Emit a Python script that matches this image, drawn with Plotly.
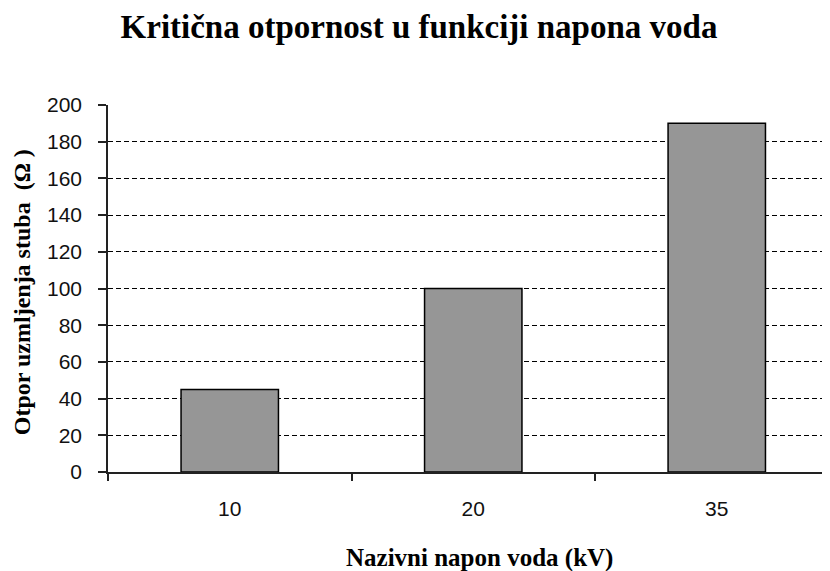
import plotly.graph_objects as go

# podaci
naponi = ["10", "20", "35"]
otpor = [45, 100, 190]
y_ticks = list(range(0, 201, 20))

SERIF = "Liberation Serif, Times New Roman, serif"
SANS = "Liberation Sans, Arial, sans-serif"

fig = go.Figure()
fig.add_trace(go.Bar(
    x=naponi, y=otpor,
    width=0.4,
    marker=dict(color="#969696", line=dict(color="black", width=1.5)),
))

# naslovi osa kao anotacije (tačno pozicioniranje)
fig.add_annotation(
    text="<b>Nazivni napon voda (kV)</b>",
    xref="paper", yref="paper", x=0.515, y=-0.234,
    xanchor="center", yanchor="middle", showarrow=False,
    font=dict(family=SERIF, size=25, color="black"),
)
fig.add_annotation(
    text="<b>Otpor uzmljenja stuba  (Ω )</b>",
    xref="paper", yref="paper", x=-0.119, y=0.49,
    xanchor="center", yanchor="middle", showarrow=False, textangle=-90,
    font=dict(family=SERIF, size=24, color="black"),
)

fig.update_layout(
    title=dict(
        text="<b>Kritična otpornost u funkciji napona voda</b>",
        x=0.5, xref="container", xanchor="center",
        y=0.968, yref="container", yanchor="middle",
        font=dict(family=SERIF, size=33, color="black"),
    ),
    xaxis=dict(
        type="category",
        range=[-0.5, 2.465],
        tickson="boundaries",
        ticks="outside", ticklen=7, tickcolor="#222", tickwidth=1.5,
        showline=True, linecolor="#222", linewidth=1.5,
        showgrid=False,
        ticklabelstandoff=17,
        tickfont=dict(family=SANS, size=21, color="#111"),
    ),
    yaxis=dict(
        range=[0, 200], tickvals=y_ticks,
        ticks="outside", ticklen=8, tickcolor="#222", tickwidth=1.5,
        showline=True, linecolor="#222", linewidth=1.5,
        showgrid=True, gridcolor="black", griddash="5px,3px", gridwidth=1,
        zeroline=False,
        ticklabelstandoff=12,
        tickfont=dict(family=SANS, size=21, color="#111"),
    ),
    margin=dict(l=100, r=0, t=97, b=99),
    width=822, height=563,
    plot_bgcolor="white", paper_bgcolor="white",
    showlegend=False,
)

fig.write_html("out.html")
